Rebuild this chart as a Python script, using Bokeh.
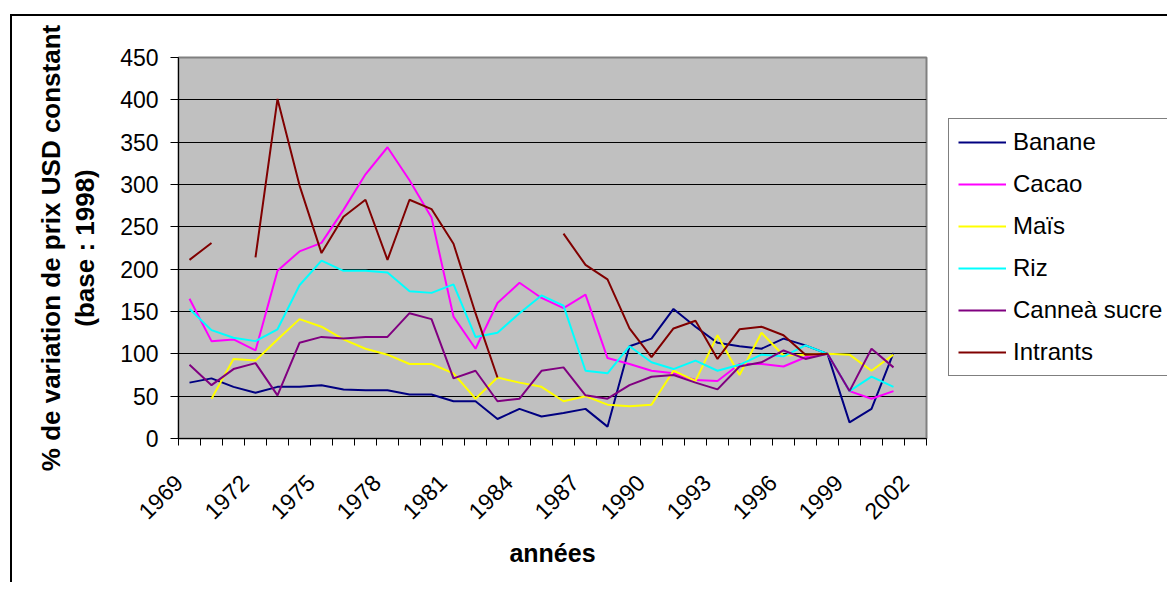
import math
from bokeh.plotting import figure
from bokeh.models import Legend, LegendItem, FixedTicker, ColumnDataSource, CustomJSTickFormatter
from bokeh.layouts import row
from bokeh.embed import file_html
from bokeh.resources import INLINE

nan = float("nan")

years = list(range(1969, 2003))

banane = [66, 71, 61, 54, 61, 61, 63, 58, 57, 57, 52, 52, 44, 44, 23, 35, 26, 30, 35, 14,
          109, 118, 153, 132, 113, 109, 106, 118, 110, 100, 19, 35, 101, nan]
cacao = [165, 115, 117, 104, 198, 221, 231, 270, 312, 344, 305, 261, 144, 106, 160, 184, 166, 154, 170, 95,
         88, 80, 77, 69, 68, 88, 88, 85, 96, 100, 56, 47, 56, nan]
mais = [nan, 47, 94, 92, 117, 141, 132, 117, 106, 99, 88, 88, 77, 47, 72, 66, 61, 44, 50, 40,
        38, 40, 80, 68, 122, 75, 125, 98, 99, 100, 99, 80, 99, nan]
riz = [153, 128, 119, 115, 129, 181, 210, 198, 198, 196, 174, 172, 182, 120, 125, 148, 169, 157, 80, 77,
       109, 90, 82, 92, 80, 87, 99, 97, 110, 100, 56, 73, 61, nan]
canne = [87, 63, 82, 89, 51, 113, 120, 118, 120, 120, 148, 141, 71, 80, 44, 47, 80, 84, 51, 47,
         63, 73, 75, 66, 58, 85, 90, 104, 94, 100, 56, 106, 84, nan]
intrants = [211, 231, nan, 214, 401, 299, 219, 262, 282, 211, 282, 271, 230, 148, 72, nan, nan, 242, 205, 188,
            130, 96, 130, 139, 94, 129, 132, 122, 99, 100, nan, nan, nan, nan]

series_names = ["Banane", "Cacao", "Maïs", "Riz", "Canneà sucre", "Intrants"]
series_values = [banane, cacao, mais, riz, canne, intrants]
series_colors = ["#000080", "#FF00FF", "#FFFF00", "#00FFFF", "#800080", "#800000"]

y_ticks = list(range(0, 451, 50))
x_label_years = list(range(1969, 2003, 3))

FONT = "Liberation Sans"
LABEL_SHIFT = 0.5  # rotated year labels end at the left edge of their category

# ---------------- main chart ----------------
p = figure(width=928, height=582, output_backend="svg", toolbar_location=None,
           x_range=(1968.5, 2002.5), y_range=(0, 450),
           min_border_left=178, min_border_right=2, min_border_top=57, min_border_bottom=144)

p.background_fill_color = "#C0C0C0"
p.border_fill_alpha = 0
p.outline_line_color = "#808080"
p.outline_line_width = 2

p.xgrid.grid_line_color = None
p.ygrid.grid_line_color = "black"
p.ygrid.grid_line_width = 1
p.ygrid.ticker = FixedTicker(ticks=y_ticks)

# y axis
p.yaxis.ticker = FixedTicker(ticks=y_ticks)
p.yaxis.axis_line_color = "black"
p.yaxis.major_tick_line_color = "black"
p.yaxis.major_tick_out = 8
p.yaxis.major_tick_in = 0
p.yaxis.minor_tick_line_color = None
p.yaxis.major_label_text_font = FONT
p.yaxis.major_label_text_font_size = "23px"
p.yaxis.major_label_text_color = "black"
p.yaxis.major_label_standoff = 12
p.yaxis.axis_label = "% de variation de prix USD constant\n(base : 1998)"
p.yaxis.axis_label_text_font = FONT
p.yaxis.axis_label_text_font_style = "bold"
p.yaxis.axis_label_text_font_size = "26px"
p.yaxis.axis_label_text_color = "black"
p.yaxis.axis_label_text_line_height = 1.15
p.yaxis.axis_label_standoff = 17

# x axis
p.xaxis.ticker = FixedTicker(ticks=[y - LABEL_SHIFT for y in x_label_years],
                             minor_ticks=[y - 0.5 for y in years] + [2002.5])
p.xaxis.formatter = CustomJSTickFormatter(code="return String(Math.round(tick + %s));" % LABEL_SHIFT)
p.xaxis.axis_line_color = "black"
p.xaxis.major_tick_line_color = None
p.xaxis.minor_tick_line_color = "black"
p.xaxis.minor_tick_out = 7
p.xaxis.minor_tick_in = 0
p.xaxis.major_label_orientation = math.pi / 4
p.xaxis.major_label_text_font = FONT
p.xaxis.major_label_text_font_size = "23px"
p.xaxis.major_label_text_color = "black"
p.xaxis.major_label_standoff = 33
p.xaxis.axis_label = "années"
p.xaxis.axis_label_text_font = FONT
p.xaxis.axis_label_text_font_style = "bold"
p.xaxis.axis_label_text_font_size = "25px"
p.xaxis.axis_label_text_color = "black"
p.xaxis.axis_label_standoff = 9

for name, vals, col in zip(series_names, series_values, series_colors):
    src = ColumnDataSource(dict(x=years, y=vals))
    p.line("x", "y", source=src, line_color=col, line_width=2)

# ---------------- legend panel (frame aligned with the chart frame) ----------------
q = figure(width=239, height=582, output_backend="svg", toolbar_location=None,
           x_range=(0, 1), y_range=(0, 1), x_axis_type=None, y_axis_type=None,
           min_border_left=0, min_border_right=0, min_border_top=57, min_border_bottom=144)
q.grid.grid_line_color = None
q.outline_line_color = None
q.background_fill_alpha = 0
q.border_fill_alpha = 0

items = []
for name, col in zip(series_names, series_colors):
    r = q.line(x=[nan], y=[nan], line_color=col, line_width=2)
    items.append(LegendItem(label=name, renderers=[r]))

legend = Legend(items=items, location=(20, 62))
legend.label_text_font = FONT
legend.label_text_font_size = "24px"
legend.label_text_color = "black"
legend.border_line_color = "black"
legend.border_line_width = 1
legend.background_fill_color = "white"
legend.background_fill_alpha = 1
legend.glyph_width = 48
legend.glyph_height = 20
legend.label_standoff = 7
legend.spacing = 14
legend.padding = 9
legend.margin = 0
q.add_layout(legend, "center")

layout = row(p, q, spacing=0)
layout.styles = {"background-color": "white",
                 "box-shadow": "inset 10px 14px 0 0 white, inset 12px 16px 0 0 black"}

open("out.html", "w").write(file_html(layout, INLINE))
